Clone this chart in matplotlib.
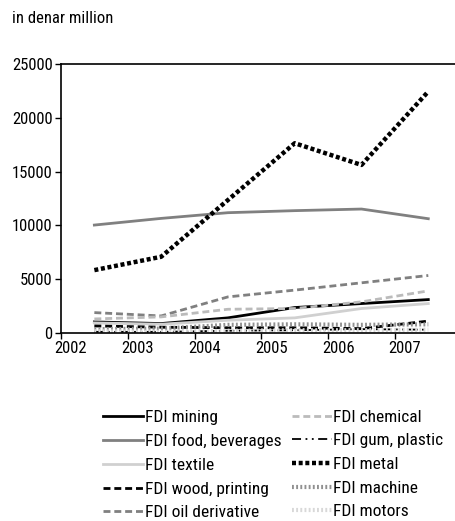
import matplotlib
matplotlib.use("Agg")
import matplotlib.pyplot as plt
from matplotlib import font_manager
from matplotlib.transforms import ScaledTranslation

# pick a narrow face if one is installed
have = {f.name for f in font_manager.fontManager.ttflist}
narrow = None
for cand in ['Liberation Sans Narrow', 'DejaVu Sans Condensed', 'Roboto Condensed',
             'Open Sans Condensed', 'Noto Sans Condensed']:
    if cand in have:
        narrow = cand
        break
if narrow is None:
    plt.rcParams['font.family'] = ['Roboto', 'DejaVu Sans']
    plt.rcParams['font.stretch'] = 'condensed'
    fs = 10.5
else:
    plt.rcParams['font.family'] = [narrow, 'DejaVu Sans']
    fs = 12
lfs = fs + 0.5

# data (values at mid-year)
years = [2002.5, 2003.5, 2004.5, 2005.5, 2006.5, 2007.5]
mining = [1020, 870, 1400, 2360, 2730, 3100]
food = [10030, 10650, 11180, 11370, 11520, 10620]
textile = [930, 810, 1180, 1400, 2270, 2730]
wood = [650, 530, 480, 480, 400, 1100]
oil = [1890, 1580, 3350, 3980, 4660, 5340]
chemical = [1300, 1490, 2200, 2270, 2890, 3910]
gum = [100, 100, 200, 250, 350, 300]
metal = [5840, 7080, 12360, 17640, 15620, 22450]
machine = [350, 400, 750, 800, 750, 800]
motors = [150, 100, 200, 250, 250, 300]

xticks = [2002, 2003, 2004, 2005, 2006, 2007]
yticks = [0, 5000, 10000, 15000, 20000, 25000]

fig = plt.figure(figsize=(4.55, 5.21), dpi=100)
ax = fig.add_axes([0.134, 0.361, 0.866, 0.516])

dash = (0, (2.5, 1.4))
ax.plot(years, mining, color='black', lw=2, ls='-', label='FDI mining')
ax.plot(years, food, color='#808080', lw=2, ls='-', label='FDI food, beverages')
ax.plot(years, textile, color='#d0d0d0', lw=2, ls='-', label='FDI textile')
ax.plot(years, wood, color='black', lw=2, ls=dash, label='FDI wood, printing')
ax.plot(years, oil, color='#808080', lw=2, ls=dash, label='FDI oil derivative')
ax.plot(years, chemical, color='#bbbbbb', lw=2, ls=dash, label='FDI chemical')
ax.plot(years, gum, color='black', lw=1.3, ls=(0, (5, 2.5, 1, 2.5, 1, 2.5)), label='FDI gum, plastic')
ax.plot(years, metal, color='black', lw=3.2, ls=(0, (0.9, 0.6)), label='FDI metal')
ax.plot(years, machine, color='#909090', lw=3, ls=(0, (0.45, 0.55)), label='FDI machine')
ax.plot(years, motors, color='#d8d8d8', lw=3, ls=(0, (0.45, 0.55)), label='FDI motors')

ax.set_xlim(2002, 2007.9)
ax.set_ylim(0, 25000)
ax.set_xticks(xticks)
ax.set_yticks(yticks)
ax.tick_params(direction='out', length=4, width=1, labelsize=fs, colors='black', pad=2)
ax.spines['right'].set_visible(False)
for s in ['left', 'bottom', 'top']:
    ax.spines[s].set_linewidth(1.2)

# year labels sit a little right of their ticks
shift = ScaledTranslation(0.10, 0, fig.dpi_scale_trans)
for lab in ax.get_xticklabels():
    lab.set_transform(lab.get_transform() + shift)

fig.text(0.026, 0.965, 'in denar million', fontsize=fs, ha='left', va='center')

fig.legend(loc='upper left', bbox_to_anchor=(0.211, 0.227), ncol=2, frameon=False,
           fontsize=lfs, handlelength=2.3, handletextpad=0.1, columnspacing=0.6,
           labelspacing=0.49, borderaxespad=0)

fig.savefig('out.png', dpi=100)
